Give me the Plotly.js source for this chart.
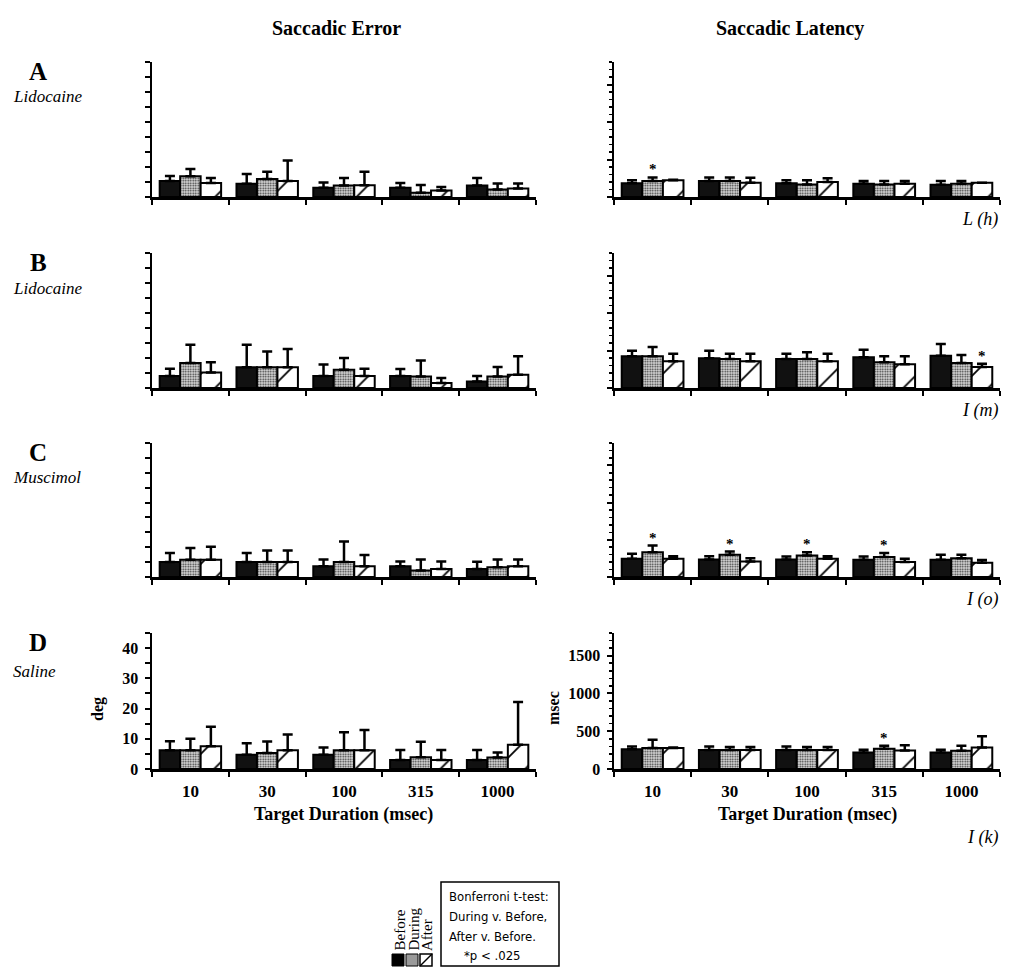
<!DOCTYPE html>
<html>
<head>
<meta charset="utf-8">
<script src="https://cdn.plot.ly/plotly-3.0.1.min.js"></script>
<style>html,body{margin:0;padding:0;background:#fff;}#chart{width:1009px;height:968px;}</style>
</head>
<body>
<div id="chart"></div>
<script>
// ---------- DATA ----------
const durations = ['10', '30', '100', '315', '1000'];
const conditions = ['Before', 'During', 'After'];

// Saccadic error (deg): means and upper error-bar lengths
const A_deg_before = [5.3, 4.4, 3.1, 3.1, 3.8];
const A_deg_before_sd = [1.7, 3.3, 1.7, 1.6, 2.5];
const A_deg_during = [6.9, 6.0, 3.8, 1.4, 2.5];
const A_deg_during_sd = [2.4, 2.4, 2.5, 2.6, 2.0];
const A_deg_after = [4.7, 5.3, 3.9, 2.2, 2.8];
const A_deg_after_sd = [1.6, 6.9, 4.5, 1.1, 1.7];

const B_deg_before = [4.0, 6.9, 4.0, 4.0, 2.2];
const B_deg_before_sd = [2.4, 7.5, 3.8, 2.3, 1.8];
const B_deg_during = [8.3, 6.9, 6.1, 3.8, 3.8];
const B_deg_during_sd = [6.1, 5.3, 3.9, 5.4, 3.2];
const B_deg_after = [5.2, 6.9, 4.0, 1.7, 4.4];
const B_deg_after_sd = [3.4, 6.1, 2.4, 1.6, 6.2];

const C_deg_before = [5.0, 5.0, 3.6, 3.6, 2.7];
const C_deg_before_sd = [3.1, 3.1, 2.3, 1.6, 2.4];
const C_deg_during = [5.8, 5.0, 5.0, 2.2, 3.3];
const C_deg_during_sd = [3.9, 3.9, 6.9, 3.7, 2.6];
const C_deg_after = [5.8, 5.0, 3.6, 2.7, 3.6];
const C_deg_after_sd = [4.4, 3.9, 3.8, 2.5, 2.3];

const D_deg_before = [6.2, 4.7, 4.7, 3.0, 3.0];
const D_deg_before_sd = [3.0, 3.8, 2.4, 3.3, 3.3];
const D_deg_during = [6.2, 5.3, 6.2, 3.9, 3.8];
const D_deg_during_sd = [3.8, 3.8, 6.0, 5.1, 1.7];
const D_deg_after = [7.5, 6.2, 6.2, 3.0, 8.0];
const D_deg_after_sd = [6.5, 5.2, 6.7, 3.3, 14.2];

// Saccadic latency (msec): means and upper error-bar lengths
const A_ms_before = [185, 212, 185, 176, 163];
const A_ms_before_sd = [40, 48, 40, 36, 49];
const A_ms_during = [212, 212, 168, 168, 176];
const A_ms_during_sd = [48, 48, 57, 44, 36];
const A_ms_after = [225, 190, 199, 176, 190];
const A_ms_after_sd = [5, 66, 52, 36, 0];

const B_ms_before = [422, 396, 387, 409, 431];
const B_ms_before_sd = [76, 102, 71, 102, 156];
const B_ms_during = [422, 387, 387, 342, 333];
const B_ms_during_sd = [125, 71, 89, 80, 107];
const B_ms_after = [356, 356, 356, 316, 280];
const B_ms_after_sd = [102, 102, 102, 106, 44];

const C_ms_before = [244, 236, 236, 231, 231];
const C_ms_before_sd = [67, 44, 40, 45, 67];
const C_ms_during = [333, 298, 289, 267, 253];
const C_ms_during_sd = [89, 44, 44, 57, 45];
const C_ms_after = [244, 209, 244, 200, 191];
const C_ms_after_sd = [36, 44, 36, 44, 36];

const D_ms_before = [263, 250, 250, 219, 219];
const D_ms_before_sd = [36, 49, 49, 35, 35];
const D_ms_during = [277, 250, 250, 268, 241];
const D_ms_during_sd = [111, 40, 40, 40, 67];
const D_ms_after = [277, 250, 250, 246, 286];
const D_ms_after_sd = [9, 40, 40, 67, 147];

// significance stars (duration index, condition)
const A_ms_stars = [[0, 'During']];
const B_ms_stars = [[4, 'After']];
const C_ms_stars = [[0, 'During'], [1, 'During'], [2, 'During'], [3, 'During']];
const D_ms_stars = [[3, 'During']];

const rowLetters = ['A', 'B', 'C', 'D'];
const rowDrugs = ['Lidocaine', 'Lidocaine', 'Muscimol', 'Saline'];
const rowSites = ['L (h)', 'I (m)', 'I (o)', 'I (k)'];
const columnTitles = ['Saccadic Error', 'Saccadic Latency'];
const xTitle = 'Target Duration (msec)';
const yTitles = ['deg', 'msec'];
const testLines = ['Bonferroni t-test:', 'During v. Before,', 'After v. Before.', '*p < .025'];

// ---------- LAYOUT HELPERS ----------
const W = 1009, H = 968;
const fx = p => p / W;
const fy = p => 1 - p / H;
const colX = [[152, 536], [614, 1000]];
const rowY = [[62, 197], [253, 388], [443, 577], [633, 769]];
const SERIF = 'Liberation Serif, Times New Roman, serif';
const BARGAP = 0.2;

const panelData = [
  [[A_deg_before, A_deg_before_sd, A_deg_during, A_deg_during_sd, A_deg_after, A_deg_after_sd],
   [A_ms_before, A_ms_before_sd, A_ms_during, A_ms_during_sd, A_ms_after, A_ms_after_sd], A_ms_stars],
  [[B_deg_before, B_deg_before_sd, B_deg_during, B_deg_during_sd, B_deg_after, B_deg_after_sd],
   [B_ms_before, B_ms_before_sd, B_ms_during, B_ms_during_sd, B_ms_after, B_ms_after_sd], B_ms_stars],
  [[C_deg_before, C_deg_before_sd, C_deg_during, C_deg_during_sd, C_deg_after, C_deg_after_sd],
   [C_ms_before, C_ms_before_sd, C_ms_during, C_ms_during_sd, C_ms_after, C_ms_after_sd], C_ms_stars],
  [[D_deg_before, D_deg_before_sd, D_deg_during, D_deg_during_sd, D_deg_after, D_deg_after_sd],
   [D_ms_before, D_ms_before_sd, D_ms_during, D_ms_during_sd, D_ms_after, D_ms_after_sd], D_ms_stars]
];

function markerFor(cond) {
  const line = {color: '#000', width: 2};
  if (cond === 'Before') return {color: '#111', line: line};
  if (cond === 'During') return {color: '#bdbdbd', line: line,
    pattern: {shape: '.', fgcolor: '#333', bgcolor: '#dcdcdc', size: 2.5, solidity: 0.4}};
  return {color: '#fff', line: line,
    pattern: {shape: '/', fgcolor: '#000', bgcolor: '#fff', size: 20, solidity: 0.09}};
}

const traces = [];
const layout = {
  width: W, height: H,
  margin: {l: 0, r: 0, t: 0, b: 0},
  paper_bgcolor: '#fff', plot_bgcolor: '#fff',
  showlegend: false,
  barmode: 'group', bargap: BARGAP, bargroupgap: 0,
  annotations: [], shapes: []
};

for (let r = 0; r < 4; r++) {
  for (let c = 0; c < 2; c++) {
    const n = r * 2 + c + 1;
    const xa = 'x' + (n === 1 ? '' : n), ya = 'y' + (n === 1 ? '' : n);
    const d = panelData[r][c];
    for (let k = 0; k < 3; k++) {
      traces.push({
        type: 'bar', x: durations, y: d[2 * k], name: conditions[k],
        xaxis: xa, yaxis: ya, marker: markerFor(conditions[k]),
        error_y: {type: 'data', symmetric: false, array: d[2 * k + 1],
          arrayminus: durations.map(() => 0), color: '#000', thickness: 2.5, width: 5},
        hoverinfo: 'skip'
      });
    }
    const isBottom = r === 3;
    const xkey = 'xaxis' + (n === 1 ? '' : n), ykey = 'yaxis' + (n === 1 ? '' : n);
    layout[xkey] = {
      domain: [fx(colX[c][0]), fx(colX[c][1])], anchor: ya,
      type: 'category', categoryarray: durations, range: [-0.5, 4.5],
      showline: true, linecolor: '#000', linewidth: 2.5, mirror: false,
      ticks: 'outside', tickson: 'boundaries', ticklen: 5, tickwidth: 2, tickcolor: '#000',
      showgrid: false, zeroline: false, fixedrange: true,
      showticklabels: isBottom, ticklabelstandoff: 5,
      tickfont: {family: SERIF, size: 17, color: '#000', weight: 'bold'}
    };
    const isDeg = c === 0;
    layout[ykey] = {
      domain: [fy(rowY[r][1]), fy(rowY[r][0])], anchor: xa,
      range: isDeg ? [0, 45] : [0, 1800],
      tick0: 0, dtick: isDeg ? (isBottom ? 10 : 5) : 500,
      showline: true, linecolor: '#000', linewidth: 2.5,
      ticks: 'outside', ticklen: 5, tickwidth: 2, tickcolor: '#000',
      minor: isDeg ? (isBottom ? {dtick: 5, ticks: 'outside', ticklen: 5, tickwidth: 2, tickcolor: '#000'} : undefined)
                   : {dtick: 100, ticks: 'outside', ticklen: 3, tickwidth: 1.5, tickcolor: '#000'},
      showgrid: false, zeroline: false, fixedrange: true,
      showticklabels: isBottom, ticklabelstandoff: 3,
      tickfont: {family: SERIF, size: 16, color: '#000', weight: 'bold'}
    };
    // stars on latency panels
    if (c === 1) {
      panelData[r][2].forEach(([i, cond]) => {
        const k = conditions.indexOf(cond);
        const bw = (1 - BARGAP) / 3;
        layout.annotations.push({
          xref: xa, yref: ya, x: i + (k - 1) * bw, y: d[2 * k][i] + d[2 * k + 1][i],
          text: '*', showarrow: false, yanchor: 'bottom', yshift: -2,
          font: {family: SERIF, size: 15, color: '#000', weight: 'bold'}
        });
      });
    }
  }
  // row letter, drug name, site label
  layout.annotations.push({xref: 'paper', yref: 'paper', x: fx(38), y: fy(rowY[r][0] + 9),
    text: rowLetters[r], showarrow: false, xanchor: 'center', yanchor: 'middle', borderpad: 0,
    font: {family: SERIF, size: 25, color: '#000', weight: 'bold'}});
  layout.annotations.push({xref: 'paper', yref: 'paper', x: fx(12), y: fy(rowY[r][0] + (r === 3 ? 38 : 35)),
    text: '<i>' + rowDrugs[r] + '</i>', showarrow: false, xanchor: 'left', yanchor: 'middle', borderpad: 0,
    font: {family: SERIF, size: 17, color: '#000'}});
  layout.annotations.push({xref: 'paper', yref: 'paper', x: fx(1000), y: fy(r === 3 ? 837 : rowY[r][1] + 22),
    text: '<i>' + rowSites[r] + '</i>', showarrow: false, xanchor: 'right', yanchor: 'middle',
    font: {family: SERIF, size: 18, color: '#000'}});
}

// column titles and x titles
[[336, 343], [790, 807]].forEach(([tx, cx], i) => {
  layout.annotations.push({xref: 'paper', yref: 'paper', x: fx(tx), y: fy(28),
    text: columnTitles[i], showarrow: false, xanchor: 'center', yanchor: 'middle',
    font: {family: SERIF, size: 20, color: '#000', weight: 'bold'}});
  layout.annotations.push({xref: 'paper', yref: 'paper', x: fx(cx), y: fy(814),
    text: xTitle, showarrow: false, xanchor: 'center', yanchor: 'middle',
    font: {family: SERIF, size: 18, color: '#000', weight: 'bold'}});
});
// y axis titles
layout.annotations.push({xref: 'paper', yref: 'paper', x: fx(98), y: fy(709), text: yTitles[0],
  textangle: -90, showarrow: false, xanchor: 'center', yanchor: 'middle',
  font: {family: SERIF, size: 16, color: '#000', weight: 'bold'}});
layout.annotations.push({xref: 'paper', yref: 'paper', x: fx(553), y: fy(708), text: yTitles[1],
  textangle: -90, showarrow: false, xanchor: 'center', yanchor: 'middle',
  font: {family: SERIF, size: 16, color: '#000', weight: 'bold'}});

// legend (swatches + rotated labels)
const sw = [[392, 404], [406, 418], [420, 432]];
layout.shapes.push({type: 'rect', xref: 'paper', yref: 'paper', x0: fx(sw[0][0]), x1: fx(sw[0][1]), y0: fy(966), y1: fy(954),
  fillcolor: '#000', line: {color: '#000', width: 1}});
layout.shapes.push({type: 'rect', xref: 'paper', yref: 'paper', x0: fx(sw[1][0]), x1: fx(sw[1][1]), y0: fy(966), y1: fy(954),
  fillcolor: '#9a9a9a', line: {color: '#000', width: 1}});
layout.shapes.push({type: 'rect', xref: 'paper', yref: 'paper', x0: fx(sw[2][0]), x1: fx(sw[2][1]), y0: fy(966), y1: fy(954),
  fillcolor: '#fff', line: {color: '#000', width: 1.5}});
layout.shapes.push({type: 'line', xref: 'paper', yref: 'paper', x0: fx(sw[2][0]), x1: fx(sw[2][1]), y0: fy(966), y1: fy(954),
  line: {color: '#000', width: 1.5}});
conditions.forEach((c, i) => {
  layout.annotations.push({xref: 'paper', yref: 'paper', x: fx((sw[i][0] + sw[i][1]) / 2 + 1), y: fy(952),
    text: c, textangle: -90, showarrow: false, xanchor: 'center', yanchor: 'bottom',
    borderpad: 0, font: {family: SERIF, size: 15, color: '#000'}});
});
// test box
layout.shapes.push({type: 'rect', xref: 'paper', yref: 'paper', x0: fx(441), x1: fx(559), y0: fy(966), y1: fy(882),
  fillcolor: 'rgba(0,0,0,0)', line: {color: '#000', width: 1.5}});
[[448, 896], [448, 916], [448, 936], [463, 955]].forEach(([x, y], i) => {
  layout.annotations.push({xref: 'paper', yref: 'paper', x: fx(x), y: fy(y), text: testLines[i],
    showarrow: false, xanchor: 'left', yanchor: 'middle', borderpad: 0,
    font: {family: 'DejaVu Sans Condensed, DejaVu Sans, sans-serif', size: 13, color: '#000'}});
});

Plotly.newPlot('chart', traces, layout, {staticPlot: true, displayModeBar: false});
</script>
</body>
</html>
